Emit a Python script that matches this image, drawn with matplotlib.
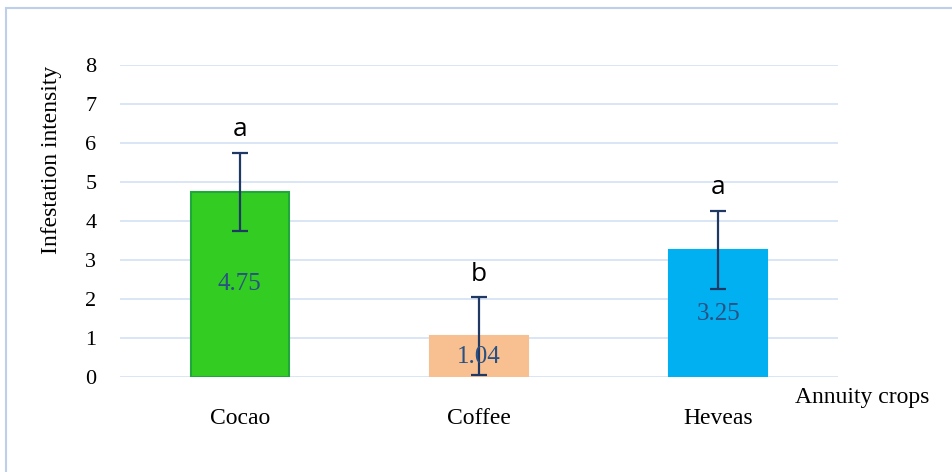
import matplotlib.pyplot as plt
from matplotlib.patches import Rectangle

crops = ['Cocao', 'Coffee', 'Heveas']
intensity = [4.75, 1.04, 3.25]
errors = [1.0, 1.0, 1.0]
letters = ['a', 'b', 'a']
yticks = [0, 1, 2, 3, 4, 5, 6, 7, 8]

bar_colors = ['#33cc22', '#f8c090', '#00b0f0']
edge_colors = ['#1ea83c', '#f8c090', '#00b0f0']
serif = 'Liberation Serif'

fig = plt.figure(figsize=(9.53, 4.72), dpi=100)
# light blue frame around the chart
fig.patches.append(Rectangle((6 / 953, -0.1), 1.2, 1 - 8 / 472 + 0.1,
                             transform=fig.transFigure, fill=False,
                             edgecolor='#bcd0ea', linewidth=1.5))

ax = fig.add_axes([120 / 953, 1 - 377 / 472, 718 / 953, 312 / 472])
x = range(len(crops))
ax.bar(x, intensity, width=0.41, color=bar_colors, edgecolor=edge_colors,
       linewidth=1.5, zorder=3)
ax.errorbar(x, intensity, yerr=errors, fmt='none', ecolor='#1f3864',
            elinewidth=1.6, capsize=6, capthick=1.6, zorder=4)

for i, v in enumerate(intensity):
    ax.text(i, v / 2, f'{v:.2f}', ha='center', va='center', color='#2a5183',
            fontsize=18, family=serif, zorder=5)
    ax.text(i, v + errors[i] + 0.6, letters[i], ha='center', va='center',
            fontsize=19, family='Open Sans', color='black')

ax.set_xlim(-0.5, 2.5)
ax.set_ylim(0, 8)
ax.set_yticks(yticks)
ax.set_yticklabels([str(t) for t in yticks], family=serif, fontsize=16)
ax.set_xticks(list(x))
ax.set_xticklabels(crops, family=serif, fontsize=17)
ax.tick_params(axis='x', length=0, pad=22)
ax.tick_params(axis='y', length=0, pad=17)
ax.grid(axis='y', color='#d3e0f3', linewidth=1.2, zorder=0)
for s in ax.spines.values():
    s.set_visible(False)

fig.text(52 / 953, 1 - 160 / 472, 'Infestation intensity', family=serif,
         fontsize=17, rotation=90, ha='center', va='center')
fig.text(795 / 953, 1 - 397 / 472, 'Annuity crops', family=serif, fontsize=17,
         va='center', ha='left')

plt.savefig('out.png', dpi=100)
